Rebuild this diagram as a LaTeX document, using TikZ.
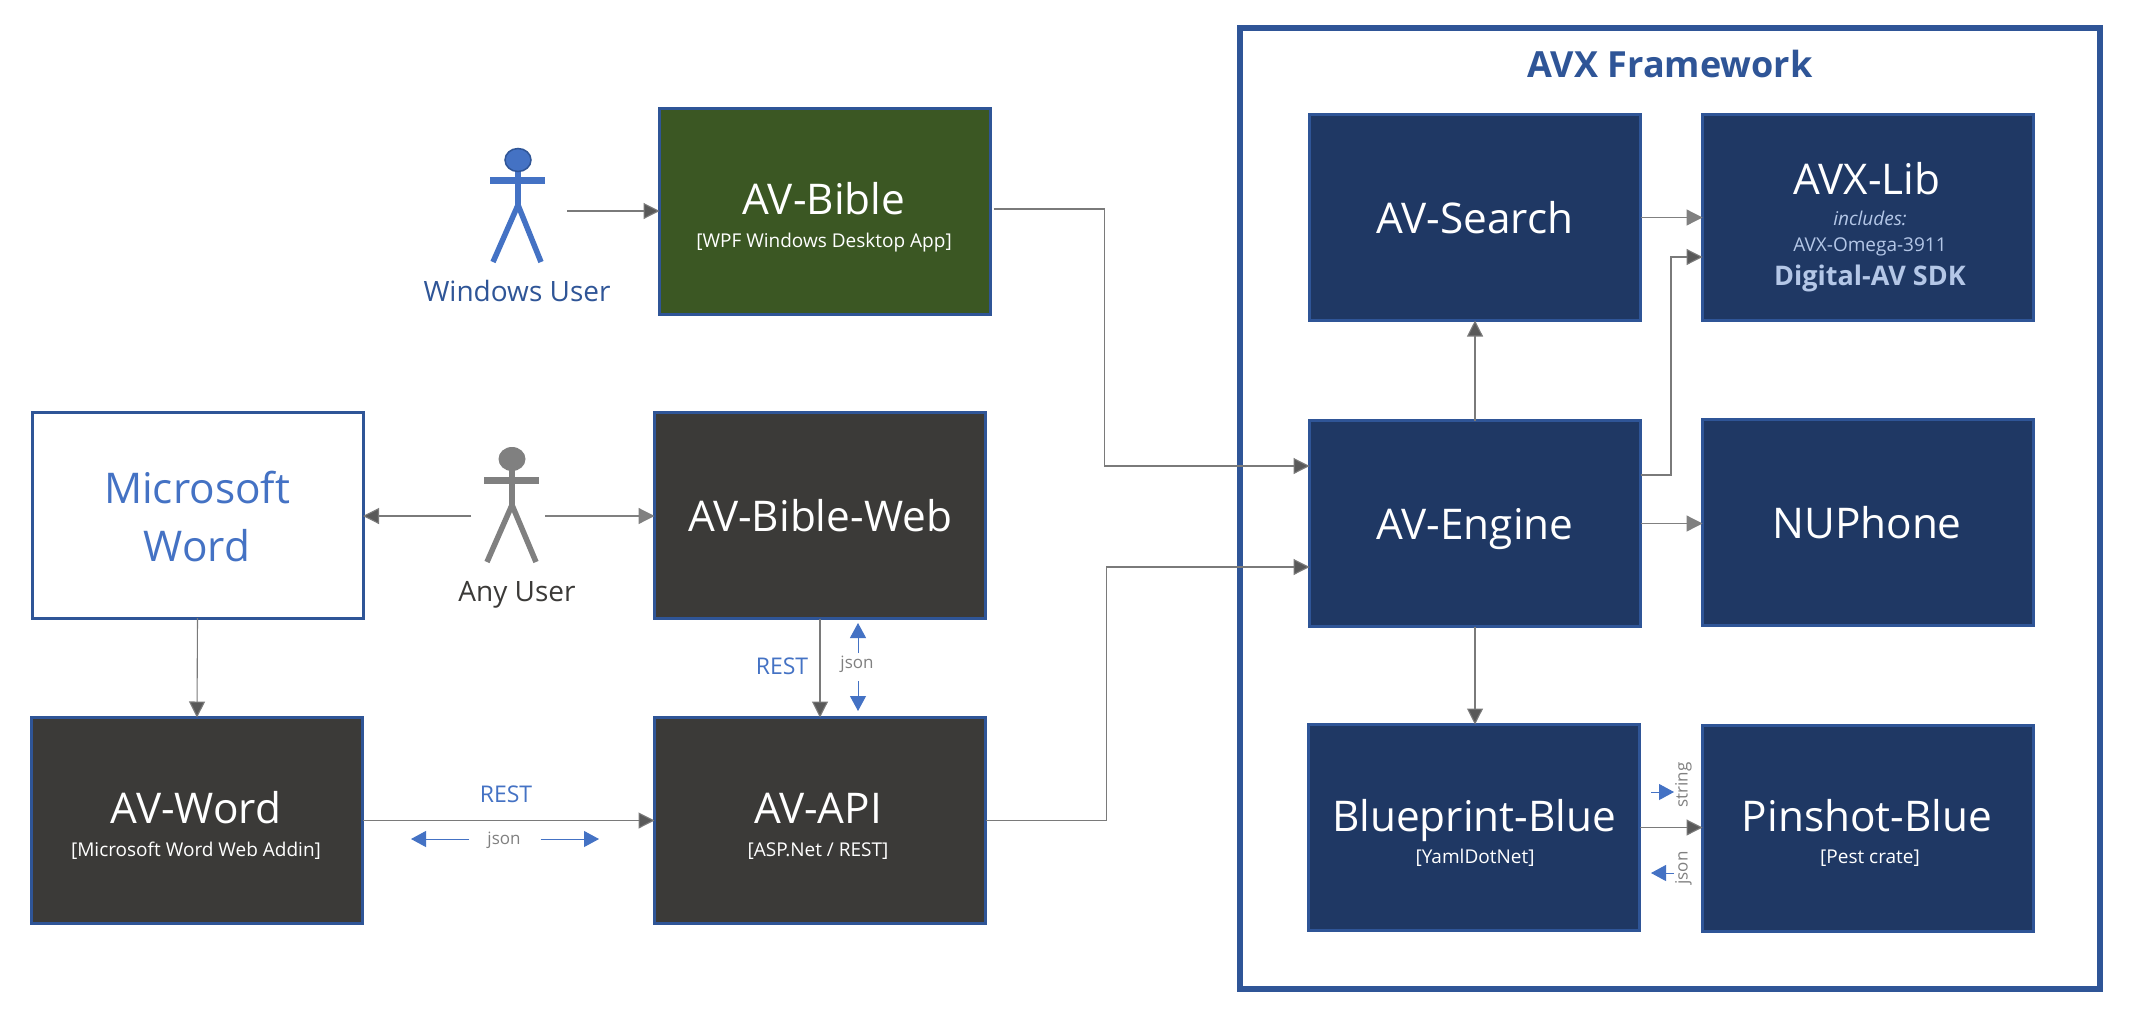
\documentclass[tikz,border=0pt]{standalone}
\usepackage{fontspec}
\setmainfont{Open Sans}
\usetikzlibrary{arrows.meta,shapes.geometric}
\definecolor{frameblue}{HTML}{2F5597}
\definecolor{navy}{HTML}{1F3864}
\definecolor{forest}{HTML}{3B5723}
\definecolor{charcoal}{HTML}{3B3A38}
\definecolor{accent}{HTML}{4472C4}
\definecolor{pale}{HTML}{B4C7E7}
\definecolor{midgrey}{HTML}{808080}
\definecolor{darkgrey}{HTML}{595959}
\newcommand{\fs}[1]{\fontsize{#1}{#1}\selectfont}
\tikzset{
  x=1pt,y=-1pt,
  boxbase/.style={draw=frameblue,line width=3pt,minimum width=331pt,minimum height=206pt,inner sep=0pt,outer sep=0pt},
  navybox/.style={boxbase,fill=navy},
  darkbox/.style={boxbase,fill=charcoal},
  greenbox/.style={boxbase,fill=forest},
  whitebox/.style={boxbase,fill=white},
  lab/.style={anchor=base,inner sep=0pt,outer sep=0pt},
  maintext/.style={lab,text=white,font=\fs{42.3},yshift=-1pt},
  subtext/.style={lab,text=white,font=\fs{19}},
  blueword/.style={lab,text=accent,font=\fs{23}},
  greyword/.style={lab,text=midgrey,font=\fs{17}},
  conn/.style={draw=darkgrey!80!white,line width=1.1pt,-{Triangle[length=16pt,width=16pt,fill=darkgrey]}},
  connlight/.style={draw=midgrey,line width=1.2pt,-{Triangle[length=16pt,width=16pt,fill=midgrey]}},
  bluearrow/.style={draw=accent,line width=1pt,-{Triangle[length=15pt,width=16pt,fill=accent]}},
  person/.style={line width=5.5pt},
}
\begin{document}
\begin{tikzpicture}
\useasboundingbox (0,0) rectangle (2130,1015);
\fill[white] (0,0) rectangle (2130,1015);

% framework
\node[draw=frameblue,line width=6pt,fill=white,minimum width=860pt,minimum height=961pt,inner sep=0pt,outer sep=0pt] (framework) at (1670,508.5) {};
\node[lab,text=frameblue,font=\bfseries\fs{36}] (fwtitle) at (1670,77) {AVX Framework};

% boxes
\node[greenbox] (bible) at (825,211.5) {};
\node[darkbox] (web) at (820,515.5) {};
\node[darkbox] (api) at (820,820.5) {};
\node[darkbox] (word) at (197,820.5) {};
\node[whitebox] (msword) at (197.5,515) {};
\node[navybox] (search) at (1475,217.5) {};
\node[navybox] (lib) at (1868,217.5) {};
\node[navybox] (engine) at (1475,523.5) {};
\node[navybox] (nuphone) at (1868,522.5) {};
\node[navybox] (blueprint) at (1474,827.5) {};
\node[navybox] (pinshot) at (1868,828.5) {};

% box labels
\node[maintext] (t1) at (824,213) {AV-Bible};
\node[subtext] (t2) at (824,247) {[WPF Windows Desktop App]};
\node[maintext] (t3) at (820,530) {AV-Bible-Web};
\node[maintext] (t4) at (818,822) {AV-API};
\node[subtext] (t5) at (818,856) {[ASP.Net / REST]};
\node[maintext] (t6) at (196,822) {AV-Word};
\node[subtext] (t7) at (196,856) {[Microsoft Word Web Addin]};
\node[maintext,text=accent] (t8) at (197,502) {Microsoft};
\node[maintext,text=accent] (t9) at (197,560) {Word};
\node[maintext] (t10) at (1475,232) {AV-Search};
\node[maintext] (t11) at (1867,193) {AVX-Lib};
\node[subtext,text=pale,font=\itshape\fs{19}] (t12) at (1870,225) {includes:};
\node[subtext,text=pale] (t13) at (1870,251) {AVX-Omega-3911};
\node[subtext,text=pale,font=\bfseries\fs{27}] (t14) at (1870,285) {Digital-AV SDK};
\node[maintext] (t15) at (1475,538) {AV-Engine};
\node[maintext] (t16) at (1867,537) {NUPhone};
\node[maintext] (t17) at (1474,830) {Blueprint-Blue};
\node[subtext] (t18) at (1475,863) {[YamlDotNet]};
\node[maintext] (t19) at (1867,830) {Pinshot-Blue};
\node[subtext] (t20) at (1870,863) {[Pest crate]};

% windows user
\coordinate (wuneck) at (518,171);
\coordinate (wuhip) at (518,205);
\draw[accent,person] (wuneck) -- (wuhip);
\draw[accent,line width=7pt] (490,180.5) -- (545,180.5);
\draw[accent,person,line join=round] (493,262) -- (wuhip) -- (541,262);
\node[draw=frameblue,line width=1.5pt,fill=accent,ellipse,minimum width=26pt,minimum height=23pt,inner sep=0pt] (wuhead) at (518,160) {};
\node[lab,text=frameblue,font=\fs{28}] (wulabel) at (517,301) {Windows User};
\coordinate (wuout) at (567,211);

% any user
\coordinate (auneck) at (512,470);
\coordinate (auhip) at (512,505);
\draw[midgrey,person] (auneck) -- (auhip);
\draw[midgrey,line width=7pt] (484,480.5) -- (539,480.5);
\draw[midgrey,person,line join=round] (487,562) -- (auhip) -- (536,562);
\node[fill=midgrey,ellipse,minimum width=27pt,minimum height=24pt,inner sep=0pt] (auhead) at (512,459) {};
\node[lab,text=charcoal,font=\fs{28}] (aulabel) at (517,601) {Any User};
\coordinate (auleft) at (471,516);
\coordinate (auright) at (545,516);

% connectors
\draw[conn] (wuout) -- (bible.west |- wuout);
\draw[conn] ([xshift=3pt,yshift=2.5pt]bible.east) -- (1104.5,209) -- (1104.5,466) -- (engine.west |- 0,466);
\draw[conn] (api.east) -- (1106.5,820.5) -- (1106.5,567) -- (engine.west |- 0,567);
\draw[conn] (auleft) -- (msword.east |- auleft);
\draw[connlight] (auright) -- (web.west |- auright);
\draw[conn] (msword.south) -- (word.north);
\draw[conn] (web.south) -- (api.north);
\draw[conn] (word.east) -- (api.west);
\draw[connlight] (search.east) -- (lib.west |- search.east);
\draw[conn] (engine.north) -- (search.south);
\draw[conn] ([yshift=48.5pt]engine.east) -- (1671,475) -- (1671,257) -- (lib.west |- 0,257);
\draw[connlight] (engine.east) -- (nuphone.west |- engine.east);
\draw[conn] (engine.south) -- (engine.south |- blueprint.north);
\draw[conn] (blueprint.east) -- (pinshot.west |- blueprint.east);

% REST / json, web-api
\node[blueword] (rest1) at (782,674) {REST};
\node[greyword] (json1) at (857,668) {json};
\coordinate (j1a) at (858,653);
\coordinate (j1b) at (858,681);
\draw[bluearrow] (j1a) -- (858,623);
\draw[bluearrow] (j1b) -- (858,711);

% REST / json, word-api
\node[blueword] (rest2) at (506,802) {REST};
\node[greyword] (json2) at (504,844) {json};
\coordinate (j2a) at (469,839);
\coordinate (j2b) at (540.5,839);
\draw[bluearrow] (j2a) -- (411,839);
\draw[bluearrow] (j2b) -- (599,839);

% string / json, blueprint-pinshot
\node[greyword,anchor=center,rotate=90,font=\fs{17}] (strlab) at (1683.5,785) {string};
\node[greyword,anchor=center,rotate=90,font=\fs{17}] (jsonlab) at (1683.5,868) {json};
\coordinate (s1) at (1651,792);
\coordinate (s2) at (1674,873);
\draw[bluearrow] (s1) -- (1674,792);
\draw[bluearrow] (s2) -- (1651,873);
\end{tikzpicture}
\end{document}
